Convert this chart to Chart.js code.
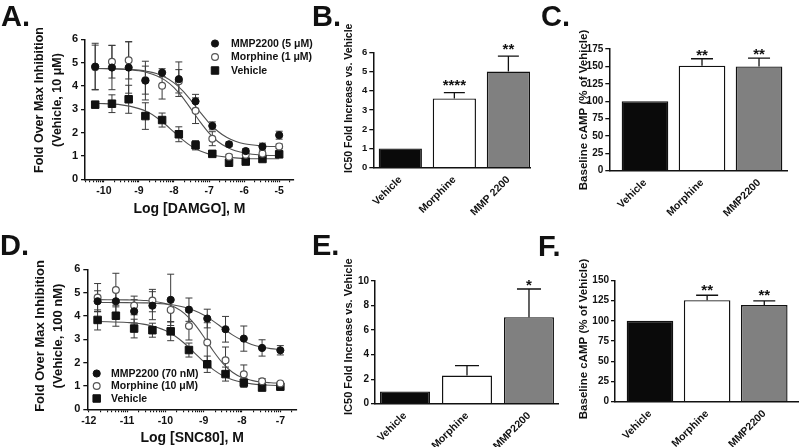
<!DOCTYPE html>
<html><head><meta charset="utf-8">
<script src="https://cdn.jsdelivr.net/npm/chart.js@4.4.1/dist/chart.umd.min.js"></script>
<style>
html,body{margin:0;padding:0;background:#fff;}
body{width:800px;height:447px;position:relative;overflow:hidden}
canvas{position:absolute;left:0;top:0;width:800px;height:447px}
</style></head><body>
<canvas id="cA" width="800" height="447"></canvas>
<canvas id="cB" width="800" height="447"></canvas>
<canvas id="cC" width="800" height="447"></canvas>
<canvas id="cD" width="800" height="447"></canvas>
<canvas id="cE" width="800" height="447"></canvas>
<canvas id="cF" width="800" height="447"></canvas>
<script>
// ================= DATA =================
// Panel A (DAMGO)
const doseA   = [-10.249,-9.771,-9.294,-8.817,-8.340,-7.863,-7.386,-6.908,-6.431,-5.954,-5.477,-5.0];
const mmpA    = [4.83,4.79,4.79,4.23,4.57,4.29,3.34,2.29,1.50,1.21,1.40,1.89];
const mmpAErr = [1.00,0.95,1.10,0.83,0.17,0.74,0.30,0.17,0.10,0.10,0.15,0.17];
const morA    = [4.80,5.04,5.10,4.25,4.01,4.20,2.94,1.74,0.97,1.05,1.10,1.41];
const morAErr = [0.95,0.70,0.80,0.60,0.57,0.50,0.55,0.30,0.10,0.10,0.10,0.10];
const vehA    = [3.20,3.24,3.43,2.71,2.54,1.93,1.46,1.09,0.71,0.76,0.87,1.07];
const vehAErr = [0.10,0.38,0.60,0.57,0.30,0.32,0.20,0.10,0.10,0.10,0.10,0.10];
const fitXA   = [-10.25,-9.5,-9,-8.75,-8.5,-8.25,-8,-7.75,-7.5,-7.25,-7,-6.75,-6.5,-6.25,-6,-5.5,-5];
const fitMmpA = [4.75,4.73,4.68,4.62,4.53,4.37,4.13,3.79,3.35,2.87,2.42,2.06,1.80,1.63,1.52,1.43,1.40];
const fitMorA = [4.75,4.72,4.65,4.57,4.44,4.24,3.93,3.50,2.98,2.45,1.98,1.62,1.38,1.22,1.13,1.04,1.01];
const fitVehA = [3.26,3.19,3.03,2.88,2.65,2.36,2.02,1.69,1.41,1.21,1.08,1.00,0.95,0.92,0.89,0.88,0.88];
const xTicksA = [-10,-9,-8,-7,-6,-5];
const xTickLabelsA = ['-10','-9','-8','-7','-6','-5'];
const legendA = ['MMP2200 (5 μM)','Morphine (1 μM)','Vehicle'];

// Panel D (SNC80)
const doseD   = [-11.771,-11.294,-10.817,-10.340,-9.863,-9.386,-8.908,-8.431,-7.954,-7.477,-7.0];
const mmpD    = [4.63,4.63,4.20,4.44,4.69,4.27,3.89,3.43,3.03,2.63,2.53];
const mmpDErr = [0.45,0.50,0.50,0.60,1.10,0.50,0.40,0.55,0.54,0.35,0.20];
const morD    = [4.79,5.11,4.45,4.66,4.26,3.57,2.86,2.10,1.50,1.20,1.11];
const morDErr = [0.60,0.72,0.40,0.48,0.50,0.60,0.85,0.57,0.40,0.12,0.08];
const vehD    = [3.83,4.01,3.46,3.39,3.34,2.54,1.93,1.51,1.14,0.93,0.97];
const vehDErr = [0.43,0.45,0.40,0.30,0.40,0.30,0.35,0.30,0.20,0.10,0.10];
const fitXD   = [-11.77,-11,-10.5,-10,-9.75,-9.5,-9.25,-9,-8.75,-8.5,-8.25,-8,-7.75,-7.5,-7.25,-7];
const fitMmpD = [4.58,4.57,4.56,4.51,4.46,4.37,4.23,4.04,3.78,3.48,3.19,2.96,2.78,2.67,2.60,2.56];
const fitMorD = [4.70,4.69,4.66,4.53,4.37,4.10,3.67,3.11,2.50,1.97,1.59,1.36,1.24,1.17,1.14,1.12];
const fitVehD = [3.76,3.72,3.63,3.38,3.14,2.82,2.43,2.04,1.70,1.44,1.27,1.16,1.09,1.05,1.03,1.02];
const xTicksD = [-12,-11,-10,-9,-8,-7];
const xTickLabelsD = ['-12','-11','-10','-9','-8','-7'];
const legendD = ['MMP2200 (70 nM)','Morphine (10 μM)','Vehicle'];

// Bar panels
const catsB = ['Vehicle','Morphine','MMP 2200'];
const valB = [1.0, 3.6, 5.0];
const errB = [0, 0.3, 0.8];
const starsB = ['', '****', '**'];

const catsC = ['Vehicle','Morphine','MMP2200'];
const valC = [100, 151, 150];
const errC = [0, 10, 12];
const starsC = ['', '**', '**'];

const catsE = ['Vehicle','Morphine','MMP2200'];
const valE = [1.0, 2.3, 7.05];
const errE = [0, 0.8, 2.3];
const starsE = ['', '', '*'];

const catsF = ['Vehicle','Morphine','MMP2200'];
const valF = [100, 125.5, 119.5];
const errF = [0, 6, 5];
const starsF = ['', '**', '**'];

// ================= STYLE / HELPERS =================
const FONT = "'Liberation Sans', Arial, Helvetica, sans-serif";
Chart.defaults.font.family = FONT;
Chart.defaults.font.weight = 'bold';
Chart.defaults.color = '#111';
const INK = '#111';
const ST = {
  mmp: {shape:'circle', r:3.6, bg:'#111', bc:'#111', bw:1},
  mor: {shape:'circle', r:3.4, bg:'#fff', bc:'#555', bw:1.2},
  veh: {shape:'rect',   r:5.3, bg:'#111', bc:'#111', bw:1}
};
const barColors = ['#0a0a0a', '#ffffff', '#808080'];

function drawMarker(ctx, st, x, y) {
  ctx.save();
  ctx.lineWidth = st.bw; ctx.fillStyle = st.bg; ctx.strokeStyle = st.bc;
  ctx.beginPath();
  if (st.shape === 'rect') { const h = st.r * Math.SQRT1_2; ctx.rect(x - h, y - h, 2 * h, 2 * h); }
  else ctx.arc(x, y, st.r, 0, Math.PI * 2);
  ctx.fill(); ctx.stroke();
  ctx.restore();
}
function drawTexts(ctx, o) {
  ctx.save();
  ctx.fillStyle = INK;
  // panel letter
  ctx.font = 'bold 29px ' + FONT;
  ctx.textAlign = 'left'; ctx.textBaseline = 'alphabetic';
  ctx.fillText(o.letter[0], o.letter[1], o.letter[2]);
  // y title
  ctx.font = 'bold ' + o.yTitle.size + 'px ' + FONT;
  ctx.textAlign = 'center'; ctx.textBaseline = 'middle';
  o.yTitle.lines.forEach((ln, i) => {
    ctx.save();
    ctx.translate(o.yTitle.x[i], o.yTitle.yc);
    ctx.rotate(-Math.PI / 2);
    ctx.fillText(ln, 0, 0);
    ctx.restore();
  });
  ctx.restore();
}
function pad(a, yw, xh) {
  return {left: a.L - yw, top: a.T, right: 800 - a.R, bottom: 447 - a.B - xh};
}

// ================= CURVE PANELS =================
function makeCurve(id, o) {
  const ds = [];
  o.series.forEach(s => ds.push({
    data: o.x.map((v, i) => ({x: v, y: s.y[i]})),
    showLine: false, pointStyle: s.st.shape, pointRadius: s.st.r, pointHoverRadius: s.st.r,
    backgroundColor: s.st.bg, borderColor: s.st.bc, borderWidth: s.st.bw, order: 1
  }));
  o.curves.forEach(c => ds.push({
    data: o.cx.map((v, i) => ({x: v, y: c[i]})),
    showLine: true, pointRadius: 0, pointHoverRadius: 0, borderColor: '#505050', borderWidth: 1.1,
    cubicInterpolationMode: 'monotone', fill: false, order: 2
  }));
  const a = o.area;
  const plug = {
    id: 'annot' + id,
    beforeDatasetsDraw(chart) {
      const ctx = chart.ctx, xs = chart.scales.x, ys = chart.scales.y;
      ctx.save();
      ctx.strokeStyle = '#3a3a3a'; ctx.lineWidth = 1;
      o.series.forEach(s => {
        o.x.forEach((xv, i) => {
          const px = xs.getPixelForValue(xv);
          const t = ys.getPixelForValue(s.y[i] + s.err[i]);
          const b = ys.getPixelForValue(s.y[i] - s.err[i]);
          ctx.beginPath();
          ctx.moveTo(px, t); ctx.lineTo(px, b);
          ctx.moveTo(px - 3.5, t); ctx.lineTo(px + 3.5, t);
          ctx.moveTo(px - 3.5, b); ctx.lineTo(px + 3.5, b);
          ctx.stroke();
        });
      });
      ctx.restore();
    },
    afterDraw(chart) {
      const ctx = chart.ctx;
      drawTexts(ctx, o);
      ctx.save();
      ctx.font = 'bold 10.5px ' + FONT; ctx.fillStyle = INK;
      ctx.textAlign = 'left'; ctx.textBaseline = 'middle';
      o.legend.labels.forEach((lb, i) => {
        const y = o.legend.y[i];
        drawMarker(ctx, o.series[i].st, o.legend.mx, y);
        ctx.fillText(lb, o.legend.tx, y + 0.5);
      });
      ctx.restore();
    }
  };
  new Chart(document.getElementById(id), {
    type: 'scatter',
    data: {datasets: ds},
    options: {
      responsive: false, animation: false, devicePixelRatio: 1,
      layout: {padding: pad(a, 30, o.xh)},
      plugins: {legend: {display: false}, tooltip: {enabled: false}},
      scales: {
        x: {
          type: 'linear', min: o.xMin, max: o.xMax,
          afterBuildTicks: s => {
            const t = [];
            for (let d = Math.floor(o.xMin); d <= Math.ceil(o.xMax); d++) {
              for (let k = 1; k <= 9; k++) {
                const v = d + Math.log10(k);
                if (v >= o.xMin - 1e-9 && v <= o.xMax + 1e-9) t.push({value: v});
              }
            }
            s.ticks = t;
          },
          afterFit: s => { s.height = o.xh; },
          grid: {display: true, drawOnChartArea: false, drawTicks: true, tickLength: 3, color: INK, lineWidth: 1.1},
          border: {display: true, color: INK, width: 1.5},
          ticks: {
            autoSkip: false, maxRotation: 0, minRotation: 0, padding: 3, color: INK,
            font: {size: 10.5, weight: 'bold'},
            callback: v => { const i = o.xTicks.findIndex(m => Math.abs(m - v) < 1e-6); return i >= 0 ? o.xTickLabels[i] : ''; }
          },
          title: {display: true, text: o.xTitle, color: INK, font: {size: 14, weight: 'bold'}, padding: {top: 0, bottom: 0}}
        },
        y: {
          min: 0, max: 6,
          afterFit: s => { s.width = 30; },
          grid: {display: true, drawOnChartArea: false, drawTicks: true, tickLength: 4, color: INK, lineWidth: 1.3},
          border: {display: true, color: INK, width: 1.5},
          ticks: {stepSize: 1, padding: 3, color: INK, font: {size: 11, weight: 'bold'}}
        }
      }
    },
    plugins: [plug]
  });
}

// ================= BAR PANELS =================
function makeBar(id, o) {
  const a = o.area;
  const plug = {
    id: 'annot' + id,
    afterDatasetsDraw(chart) {
      const ctx = chart.ctx, xs = chart.scales.x, ys = chart.scales.y;
      ctx.save();
      ctx.strokeStyle = INK; ctx.lineWidth = 1.3;
      o.vals.forEach((v, i) => {
        if (!o.errs[i]) return;
        const px = xs.getPixelForValue(i + 1);
        const b = ys.getPixelForValue(v);
        const t = ys.getPixelForValue(v + o.errs[i]);
        ctx.beginPath();
        ctx.moveTo(px, b); ctx.lineTo(px, t);
        ctx.moveTo(px - o.cap, t); ctx.lineTo(px + o.cap, t);
        ctx.stroke();
      });
      ctx.fillStyle = INK;
      ctx.font = 'bold 15px ' + FONT;
      ctx.textAlign = 'center'; ctx.textBaseline = 'alphabetic';
      o.stars.forEach((s, i) => {
        if (!s) return;
        const px = xs.getPixelForValue(i + 1);
        const t = ys.getPixelForValue(o.vals[i] + o.errs[i]);
        ctx.fillText(s, px, t - o.starGap + 0.56 * 15);
      });
      ctx.restore();
    },
    afterDraw(chart) { drawTexts(chart.ctx, o); }
  };
  new Chart(document.getElementById(id), {
    type: 'bar',
    data: {datasets: [{
      data: o.vals.map((v, i) => ({x: i + 1, y: v})),
      backgroundColor: barColors, borderColor: INK, borderWidth: 1.4,
      barPercentage: o.bp, categoryPercentage: 1
    }]},
    options: {
      responsive: false, animation: false, devicePixelRatio: 1,
      layout: {padding: pad(a, 30, 50)},
      plugins: {legend: {display: false}, tooltip: {enabled: false}},
      scales: {
        x: {
          type: 'linear', min: o.xMin, max: o.xMax, offset: false,
          afterBuildTicks: s => { s.ticks = o.cats.map((c, i) => ({value: i + 1})); },
          afterFit: s => { s.height = 50; },
          grid: {display: true, offset: false, drawOnChartArea: false, drawTicks: false, color: INK},
          border: {display: true, color: INK, width: 1.5},
          ticks: {
            autoSkip: false, minRotation: 45, maxRotation: 45, padding: 6, color: INK,
            font: {size: 10.5, weight: 'bold'},
            callback: v => o.cats[Math.round(v) - 1]
          }
        },
        y: {
          min: 0, max: o.yMax,
          afterFit: s => { s.width = 30; },
          grid: {display: true, drawOnChartArea: false, drawTicks: true, tickLength: 4, color: INK, lineWidth: 1.3},
          border: {display: true, color: INK, width: 1.5},
          ticks: {stepSize: o.step, padding: 2, color: INK, font: {size: o.tickSize, weight: 'bold'}}
        }
      }
    },
    plugins: [plug]
  });
}

// ================= BUILD =================
makeCurve('cA', {
  area: {L: 85, T: 39.3, R: 294, B: 179.3}, xh: 38.6, xMin: -10.54, xMax: -4.577,
  x: doseA, cx: fitXA,
  series: [{y: mmpA, err: mmpAErr, st: ST.mmp}, {y: morA, err: morAErr, st: ST.mor}, {y: vehA, err: vehAErr, st: ST.veh}],
  curves: [fitMmpA, fitMorA, fitVehA],
  xTicks: xTicksA, xTickLabels: xTickLabelsA, xTitle: 'Log [DAMGO], M',
  legend: {labels: legendA, mx: 215, tx: 231, y: [43.5, 57, 70.5]},
  letter: ['A.', 1, 26],
  yTitle: {lines: ['Fold Over Max Inhibition', '(Vehicle, 10 μM)'], x: [40, 58], yc: 100, size: 12.5}
});
makeCurve('cD', {
  area: {L: 87.3, T: 269.3, R: 297, B: 409.3}, xh: 37.4, xMin: -12.04, xMax: -6.565,
  x: doseD, cx: fitXD,
  series: [{y: mmpD, err: mmpDErr, st: ST.mmp}, {y: morD, err: morDErr, st: ST.mor}, {y: vehD, err: vehDErr, st: ST.veh}],
  curves: [fitMmpD, fitMorD, fitVehD],
  xTicks: xTicksD, xTickLabels: xTickLabelsD, xTitle: 'Log [SNC80], M',
  legend: {labels: legendD, mx: 96.7, tx: 111, y: [373.5, 386, 398.5]},
  letter: ['D.', 0, 255],
  yTitle: {lines: ['Fold Over Max Inhibition', '(Vehicle, 100 nM)'], x: [40, 58], yc: 336, size: 13}
});
makeBar('cB', {
  area: {L: 373.3, T: 52.3, R: 530, B: 167.7}, xMin: 0.5, xMax: 3.4, bp: 0.8,
  cats: catsB, vals: valB, errs: errB, stars: starsB, yMax: 6, step: 1, tickSize: 9.5,
  cap: 10.5, starGap: 11,
  letter: ['B.', 312, 26],
  yTitle: {lines: ['IC50 Fold Increase vs. Vehicle'], x: [349], yc: 98.3, size: 10.5}
});
makeBar('cC', {
  area: {L: 609.3, T: 49, R: 787.7, B: 170.7}, xMin: 0.374, xMax: 3.503, bp: 0.818,
  cats: catsC, vals: valC, errs: errC, stars: starsC, yMax: 175, step: 25, tickSize: 10,
  cap: 11, starGap: 7,
  letter: ['C.', 541, 26],
  yTitle: {lines: ['Baseline cAMP (% of Vehicle)'], x: [584], yc: 110, size: 11.5}
});
makeBar('cE', {
  area: {L: 375, T: 281, R: 558, B: 403.7}, xMin: 0.516, xMax: 3.468, bp: 0.806,
  cats: catsE, vals: valE, errs: errE, stars: starsE, yMax: 10, step: 2, tickSize: 10,
  cap: 12, starGap: 7.5,
  letter: ['E.', 312, 255],
  yTitle: {lines: ['IC50 Fold Increase vs. Vehicle'], x: [349], yc: 336.7, size: 11}
});
makeBar('cF', {
  area: {L: 615, T: 280.3, R: 798, B: 401.7}, xMin: 0.388, xMax: 3.59, bp: 0.815,
  cats: catsF, vals: valF, errs: errF, stars: starsF, yMax: 150, step: 25, tickSize: 10,
  cap: 11, starGap: 9,
  letter: ['F.', 538, 256],
  yTitle: {lines: ['Baseline cAMP (% of Vehicle)'], x: [584], yc: 339, size: 11.5}
});
</script></body></html>
